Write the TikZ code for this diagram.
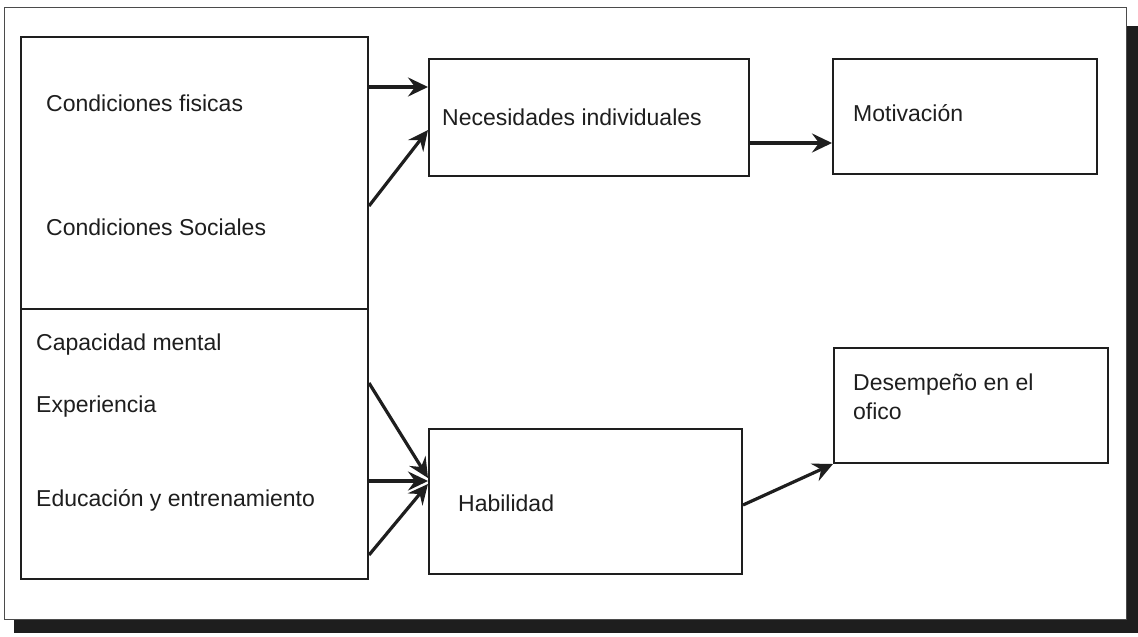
\documentclass[tikz,border=0pt]{standalone}
\usepackage{fontspec}
\setmainfont{Liberation Sans}
\usetikzlibrary{arrows.meta}
\definecolor{ink}{HTML}{1E1E1E}
\begin{document}
\begin{tikzpicture}[x=1pt,y=-1pt,
  box/.style={draw=ink, line width=2pt, inner sep=0pt, anchor=north west},
  lbl/.style={anchor=west, inner sep=0pt, font=\fontsize{23}{29}\selectfont, text=ink},
  link/.style={draw=ink, line width=3.2pt, -{Stealth[length=20pt,width=19pt,inset=7pt]}}
]
% page and shadowed frame
\fill[white] (0,0) rectangle (1138,637);
\useasboundingbox (0,0) rectangle (1138,637);
\fill[ink] (14,26) rectangle (1138,633);
\draw[ink!80, fill=white, line width=1pt] (4,7) rectangle (1126,619);

% boxes
\node[box, minimum width=347pt, minimum height=272pt] (cond) at (20,36) {};
\node[box, minimum width=347pt, minimum height=270pt] (cap) at (20,308) {};
\node[box, minimum width=320pt, minimum height=117pt] (nec) at (428,58) {};
\node[box, minimum width=264pt, minimum height=115pt] (mot) at (832,58) {};
\node[box, minimum width=313pt, minimum height=145pt] (hab) at (428,428) {};
\node[box, minimum width=274pt, minimum height=115pt] (des) at (833,347) {};

% texts
\node[lbl] (tfis) at (46,103) {Condiciones fisicas};
\node[lbl] (tsoc) at (46,227) {Condiciones Sociales};
\node[lbl] (tcap) at (36,345) {Capacidad mental};
\node[lbl] (texp) at (36,407) {Experiencia};
\node[lbl] (tedu) at (36,500) {Educación y entrenamiento};
\node[lbl] (tnec) at (442,117) {Necesidades individuales};
\node[lbl] (tmot) at (853,113) {Motivación};
\node[lbl] (thab) at (458,503) {Habilidad};
\node[lbl, align=left] (tdes) at (853,397) {Desempeño en el\\ofico};

% connectors
\draw[link] (cond.east |- 0,87) -- (nec.west |- 0,87);
\draw[link] (cond.east |- 0,206) -- (nec.west |- 0,130);
\draw[link] (nec.east |- 0,143) -- (mot.west |- 0,143);
\draw[link] (cap.east |- 0,383) -- (hab.west |- 0,478);
\draw[link] (cap.east |- 0,481) -- (hab.west |- 0,481);
\draw[link] (cap.east |- 0,555) -- (hab.west |- 0,484);
\draw[link] (hab.east |- 0,505) -- (des.south west);
\end{tikzpicture}
\end{document}
